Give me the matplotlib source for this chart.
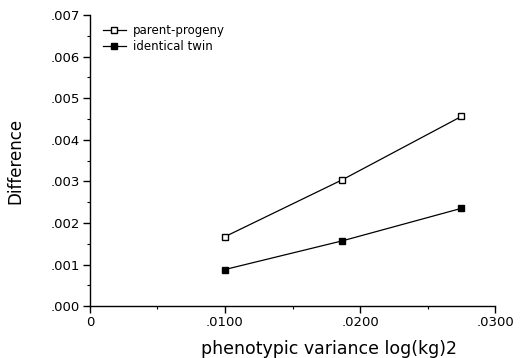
import matplotlib
matplotlib.use("Agg")
import matplotlib.pyplot as plt
from matplotlib.ticker import MultipleLocator, FuncFormatter

# values
variance = [0.0100, 0.0187, 0.0275]
parent_progeny = [0.00167, 0.00304, 0.00456]
identical_twin = [0.00088, 0.00157, 0.00235]

plt.rcParams['font.family'] = ['DejaVu Sans']

fig = plt.figure(figsize=(5.2, 3.58), dpi=100)
ax = fig.add_axes([0.173, 0.145, 0.779, 0.813])

ax.plot(variance, parent_progeny, color='black', lw=0.9, marker='s', ms=5,
        mfc='white', mec='black', mew=1.0, label='parent-progeny')
ax.plot(variance, identical_twin, color='black', lw=0.9, marker='s', ms=5,
        mfc='black', mec='black', label='identical twin')

ax.set_xlim(0, 0.03)
ax.set_ylim(0, 0.007)
ax.xaxis.set_major_locator(MultipleLocator(0.01))
ax.xaxis.set_minor_locator(MultipleLocator(0.005))
ax.yaxis.set_major_locator(MultipleLocator(0.001))
ax.yaxis.set_minor_locator(MultipleLocator(0.0005))

def fmt_x(v, pos):
    if abs(v) < 1e-12:
        return '0'
    return ('%.4f' % v)[1:]

def fmt_y(v, pos):
    return ('%.3f' % v)[1:]

ax.xaxis.set_major_formatter(FuncFormatter(fmt_x))
ax.yaxis.set_major_formatter(FuncFormatter(fmt_y))

for s in ['top', 'right']:
    ax.spines[s].set_visible(False)
for s in ['left', 'bottom']:
    ax.spines[s].set_linewidth(1.0)

ax.tick_params(which='major', direction='out', length=5, width=1.0, labelsize=9.5, pad=2)
ax.tick_params(which='minor', direction='out', length=2.5, width=0.8)

ax.set_xlabel('phenotypic variance log(kg)2', fontsize=12.5)
ax.set_ylabel('Difference', fontsize=12)
# label positions as in the original (x label sits right of centre)
ax.xaxis.set_label_coords(0.59, -0.115)
ax.yaxis.set_label_coords(-0.163, 0.5)

ax.legend(loc='upper left', bbox_to_anchor=(0.005, 1.005), frameon=False, fontsize=8.5,
          handlelength=2.0, handletextpad=0.6, labelspacing=0.25, markerscale=0.85)

fig.savefig('out.png', dpi=100)
